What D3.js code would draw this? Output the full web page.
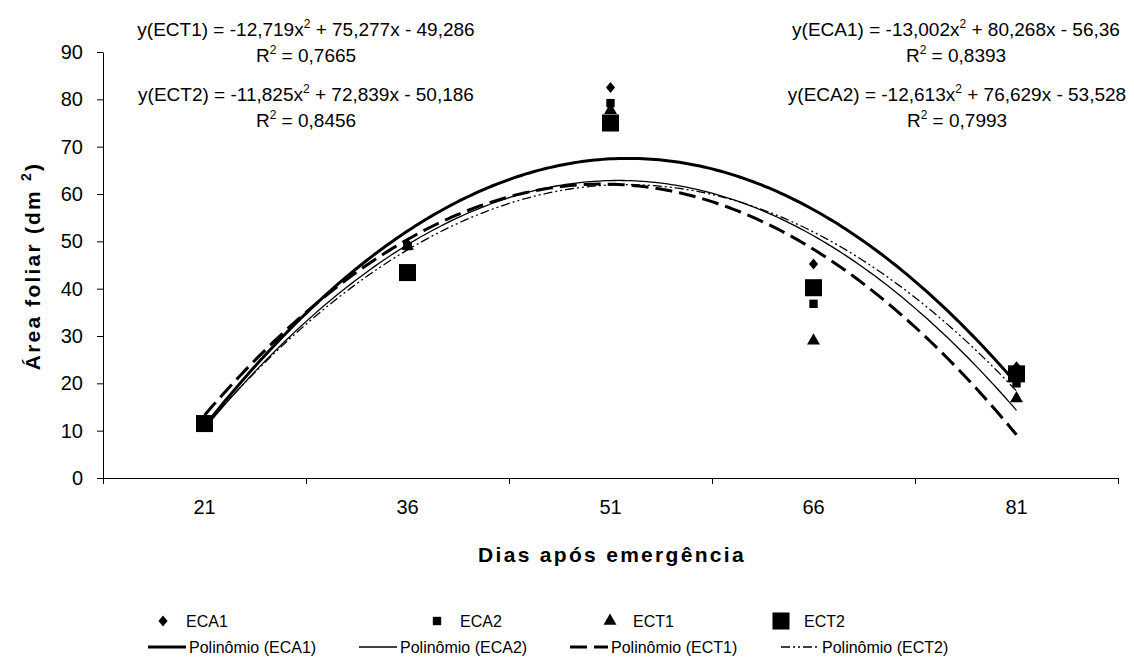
<!DOCTYPE html>
<html>
<head>
<meta charset="utf-8">
<script src="https://cdn.jsdelivr.net/npm/d3@7"></script>
<style>
  body { margin: 0; background: #fff; }
  svg { display: block; font-family: "Liberation Sans", Arial, sans-serif; }
</style>
</head>
<body>
<svg id="chart" width="1134" height="660"></svg>
<script>
// ---- data ----
const categories = ["21", "36", "51", "66", "81"];
const ECA1 = [11.5, 49.5, 82.5, 45.2, 23.5];
const ECA2 = [11, 49, 79.2, 36.8, 20];
const ECT1 = [12, 49, 77.7, 29, 16.8];
const ECT2 = [11.5, 43.4, 75, 40.2, 22];
const yTicks = [0, 10, 20, 30, 40, 50, 60, 70, 80, 90];
// trendline coefficients (a, b, c) of y = a x^2 + b x + c, as printed on the chart
const coefECA1 = [-13.002, 80.268, -56.36];
const coefECA2 = [-12.613, 76.629, -53.528];
const coefECT1 = [-12.719, 75.277, -49.286];
const coefECT2 = [-11.825, 72.839, -50.186];
const eqECT1 = ["y(ECT1) = -12,719x", " + 75,277x - 49,286", "0,7665"];
const eqECT2 = ["y(ECT2) = -11,825x", " + 72,839x - 50,186", "0,8456"];
const eqECA1 = ["y(ECA1) = -13,002x", " + 80,268x - 56,36", "0,8393"];
const eqECA2 = ["y(ECA2) = -12,613x", " + 76,629x - 53,528", "0,7993"];

const svg = d3.select("#chart");
const L = 103, R = 1118, T = 52, B = 478;

const xBand = d3.scaleBand().domain(categories).range([L, R]);
const xLin = d3.scaleLinear().domain([0.5, categories.length + 0.5]).range([L, R]);
const y = d3.scaleLinear().domain([0, 90]).range([B, T]);

// ---- axes ----
const yAxis = svg.append("g").attr("transform", `translate(${L},0)`)
  .call(d3.axisLeft(y).tickValues(yTicks).tickSize(6).tickPadding(14).tickSizeOuter(0));
yAxis.selectAll("text").attr("font-size", 20).attr("fill", "#000").attr("font-family", "Liberation Sans, Arial, sans-serif");
yAxis.selectAll("line, path").attr("stroke", "#000");

const xTicksAxis = svg.append("g").attr("transform", `translate(0,${B})`)
  .call(d3.axisBottom(xLin).tickValues(d3.range(0.5, categories.length + 1, 1)).tickSize(6).tickFormat("").tickSizeOuter(0));
xTicksAxis.selectAll("line, path").attr("stroke", "#000");

const xLabAxis = svg.append("g").attr("transform", `translate(0,${B})`)
  .call(d3.axisBottom(xBand).tickSize(0).tickPadding(22));
xLabAxis.select(".domain").remove();
xLabAxis.selectAll("text").attr("font-size", 20).attr("fill", "#000").attr("font-family", "Liberation Sans, Arial, sans-serif");

// axis titles
svg.append("text").attr("x", 612).attr("y", 562).attr("text-anchor", "middle")
  .attr("font-size", 21).attr("font-weight", "bold").attr("letter-spacing", 2.3)
  .text("Dias após emergência");
const yt = svg.append("text").attr("transform", "translate(40,266) rotate(-90)")
  .attr("text-anchor", "middle").attr("font-size", 21).attr("font-weight", "bold").attr("letter-spacing", 2.2);
yt.append("tspan").text("Área foliar (dm ");
yt.append("tspan").attr("dy", -9).attr("font-size", 14).text("2");
yt.append("tspan").attr("dy", 9).text(")");

// ---- trendlines ----
const styles = {
  ECA1: { w: 3, dash: null },
  ECA2: { w: 1.3, dash: null },
  ECT1: { w: 3, dash: "17,7" },
  ECT2: { w: 1.3, dash: "9,3,2,3,2,3" }
};
const fits = [["ECA1", coefECA1], ["ECA2", coefECA2], ["ECT1", coefECT1], ["ECT2", coefECT2]];
const xs = d3.range(1, 5.0001, 0.02);
const line = d3.line().x(d => xLin(d[0])).y(d => y(d[1]));
fits.forEach(([k, c]) => {
  const pts = xs.map(x => [x, c[0] * x * x + c[1] * x + c[2]]);
  svg.append("path").datum(pts).attr("d", line).attr("fill", "none").attr("stroke", "#000")
    .attr("stroke-width", styles[k].w).attr("stroke-dasharray", styles[k].dash);
});

// ---- markers ----
const wideDiamond = {
  draw(ctx, size) {
    const h = Math.sqrt(size * 1.2) / 2 * 1.1, w = h * 0.82;
    ctx.moveTo(0, -h); ctx.lineTo(w, 0); ctx.lineTo(0, h); ctx.lineTo(-w, 0); ctx.closePath();
  }
};
const sym = {
  ECA1: d3.symbol().type(wideDiamond).size(85),
  ECA2: d3.symbol().type(d3.symbolSquare).size(70),
  ECT1: d3.symbol().type(d3.symbolTriangle).size(72),
  ECT2: d3.symbol().type(d3.symbolSquare).size(290)
};
const series = [["ECA1", ECA1], ["ECA2", ECA2], ["ECT1", ECT1], ["ECT2", ECT2]];
series.forEach(([k, vals]) => {
  svg.append("g").selectAll("path").data(vals).join("path")
    .attr("d", sym[k]())
    .attr("transform", (d, i) => `translate(${xBand(categories[i]) + xBand.bandwidth() / 2},${y(d)})`)
    .attr("fill", "#000");
});

// ---- equations ----
function eq(cx, yb, e) {
  const t = svg.append("text").attr("x", cx).attr("y", yb).attr("text-anchor", "middle").attr("font-size", 19);
  t.append("tspan").text(e[0]);
  t.append("tspan").attr("dy", -8).attr("font-size", 12).text("2");
  t.append("tspan").attr("dy", 8).text(e[1]);
  const r = svg.append("text").attr("x", cx).attr("y", yb + 26).attr("text-anchor", "middle").attr("font-size", 19);
  r.append("tspan").text("R");
  r.append("tspan").attr("dy", -8).attr("font-size", 12).text("2");
  r.append("tspan").attr("dy", 8).text(" = " + e[2]);
}
eq(306, 36, eqECT1);
eq(306, 101, eqECT2);
eq(956, 36, eqECA1);
eq(957, 101, eqECA2);

// ---- legend ----
const lg = svg.append("g").attr("font-size", 16);
const row1x = [163, 437, 610, 781];
series.forEach(([k], i) => {
  lg.append("path").attr("d", sym[k]()).attr("transform", `translate(${row1x[i]},621)`).attr("fill", "#000");
  lg.append("text").attr("x", row1x[i] + 23).attr("y", 627).text(k);
});
const row2x = [148, 359, 570, 781];
fits.forEach(([k], i) => {
  lg.append("line").attr("x1", row2x[i]).attr("x2", row2x[i] + 38).attr("y1", 647).attr("y2", 647)
    .attr("stroke", "#000").attr("stroke-width", styles[k].w).attr("stroke-dasharray", styles[k].dash);
  lg.append("text").attr("x", row2x[i] + 41).attr("y", 653).text(`Polinômio (${k})`);
});
</script>
</body>
</html>
